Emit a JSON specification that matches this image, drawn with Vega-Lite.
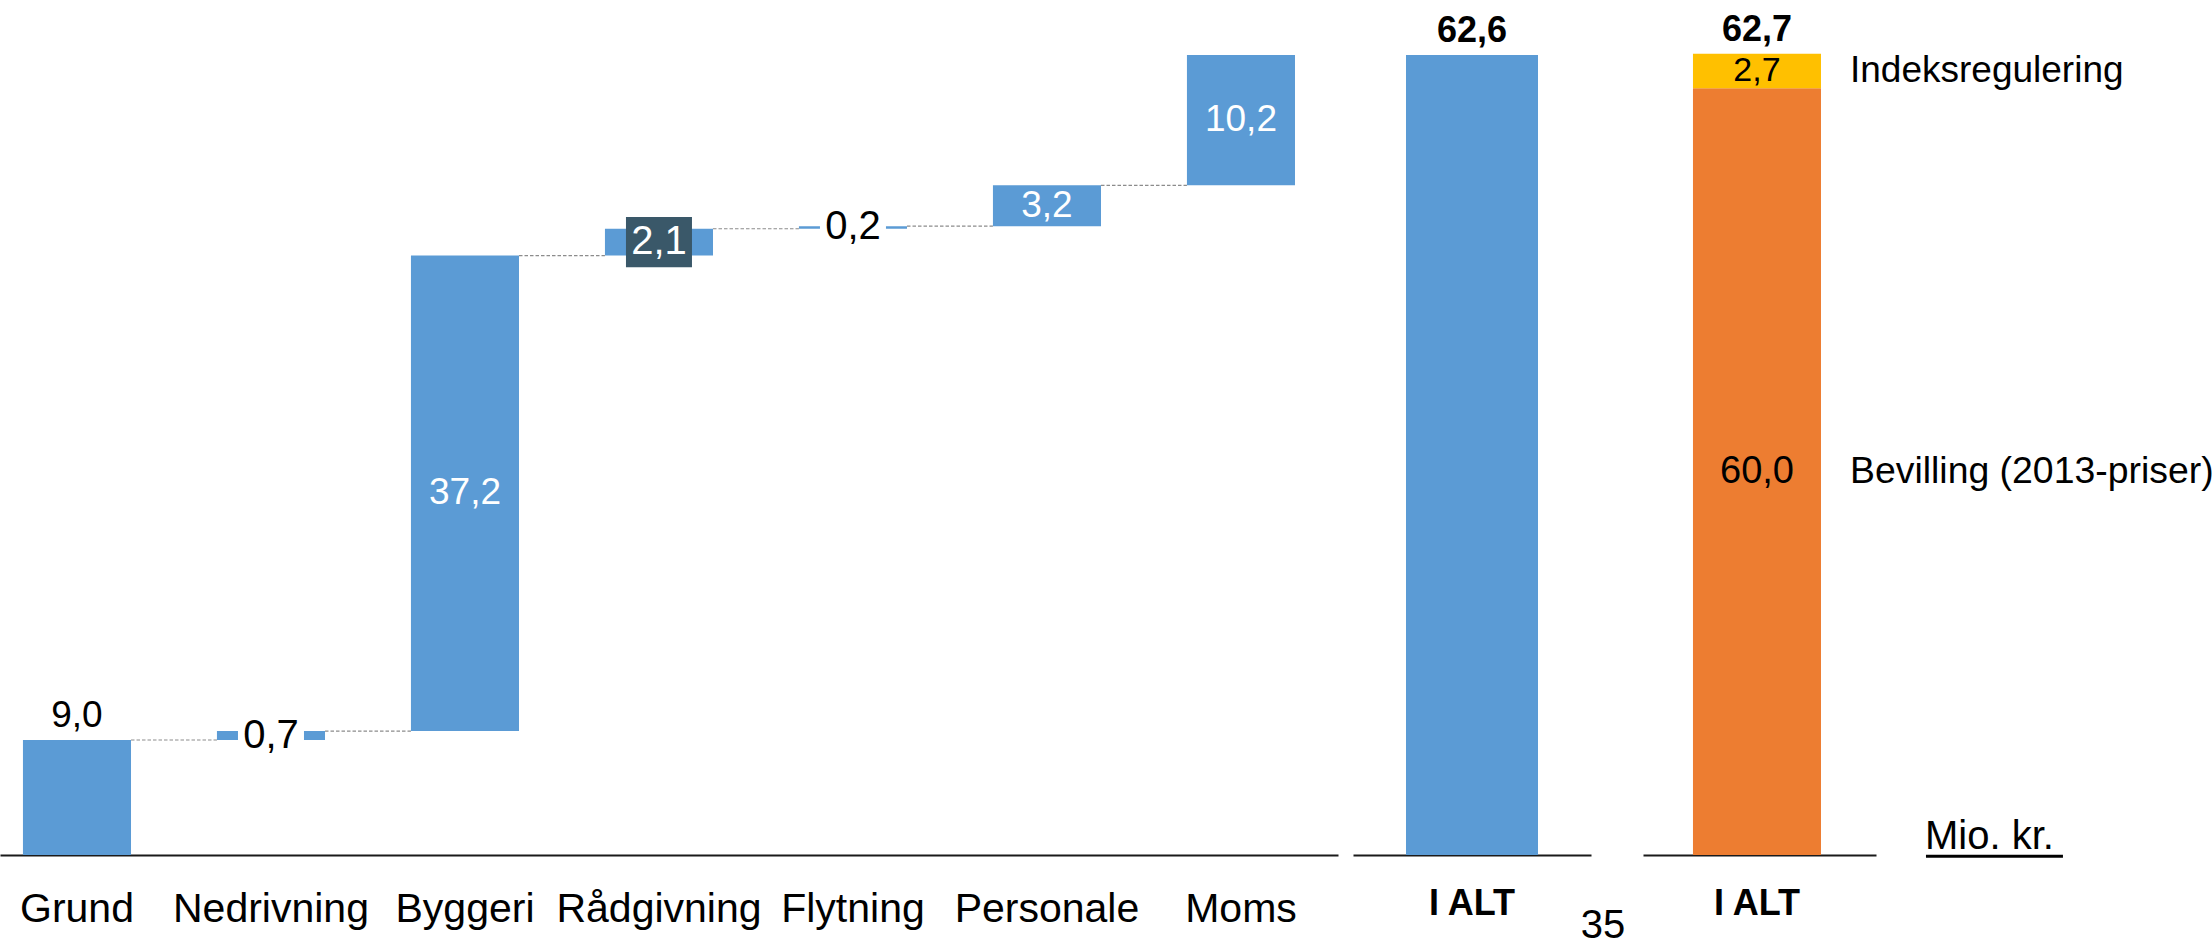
{
  "$schema": "https://vega.github.io/schema/vega-lite/v6.json",
  "padding": 0,
  "background": "white",
  "config": {
    "view": {"stroke": null},
    "font": "Liberation Sans",
    "text": {"font": "Liberation Sans"}
  },
  "bounds": "flush",
  "spacing": 15,
  "hconcat": [
    {
      "width": 1338,
      "height": 855,
      "data": {
        "values": [
          {"category": "Grund", "start": 0, "end": 9.0, "label": "9,0"},
          {"category": "Nedrivning", "start": 9.0, "end": 9.7, "label": "0,7"},
          {"category": "Byggeri", "start": 9.7, "end": 46.9, "label": "37,2"},
          {"category": "Rådgivning", "start": 46.9, "end": 49.0, "label": "2,1"},
          {"category": "Flytning", "start": 49.0, "end": 49.2, "label": "0,2"},
          {"category": "Personale", "start": 49.2, "end": 52.4, "label": "3,2"},
          {"category": "Moms", "start": 52.4, "end": 62.6, "label": "10,2"}
        ]
      },
      "transform": [
        {"window": [{"op": "lead", "field": "category", "as": "next"}]},
        {"calculate": "(datum.start + datum.end) / 2", "as": "mid"}
      ],
      "encoding": {
        "x": {
          "field": "category",
          "type": "nominal",
          "scale": {
            "domain": ["Grund", "Nedrivning", "Byggeri", "Rådgivning", "Flytning", "Personale", "Moms"],
            "paddingInner": 0.443,
            "paddingOuter": 0.17,
            "align": 0.348
          },
          "axis": {
            "title": null,
            "ticks": false,
            "tickSize": 0,
            "labelAngle": 0,
            "labelFont": "Liberation Sans",
            "labelFontSize": 41,
            "labelColor": "black",
            "labelBaseline": "alphabetic",
            "labelPadding": 66,
            "labelLimit": 0,
            "labelOverlap": false,
            "labelBound": false,
            "domainColor": "#1a1a1a",
            "domainWidth": 2,
            "grid": false
          }
        }
      },
      "layer": [
        {
          "transform": [{"filter": "datum.next != null"}],
          "mark": {"type": "rule", "color": "#8c8c8c", "strokeDash": [3.5, 2], "strokeWidth": 1.2},
          "encoding": {
            "x": {"field": "category", "type": "nominal", "bandPosition": 1},
            "x2": {"field": "next", "bandPosition": 0},
            "y": {"field": "end", "type": "quantitative", "scale": {"domain": [0, 66.9], "nice": false}, "axis": null}
          }
        },
        {
          "mark": {"type": "bar", "color": "#5B9BD5"},
          "encoding": {
            "y": {"field": "start", "type": "quantitative", "scale": {"domain": [0, 66.9], "nice": false}, "axis": null},
            "y2": {"field": "end"}
          }
        },
        {
          "transform": [{"filter": {"field": "category", "oneOf": ["Nedrivning", "Flytning"]}}],
          "mark": {"type": "point", "shape": "M-1,-0.76H1V0.76H-1Z", "filled": true, "color": "white", "opacity": 1, "size": 4356, "strokeWidth": 0},
          "encoding": {
            "y": {"field": "mid", "type": "quantitative", "scale": {"domain": [0, 66.9], "nice": false}, "axis": null}
          }
        },
        {
          "transform": [{"filter": {"field": "category", "equal": "Rådgivning"}}],
          "mark": {"type": "point", "shape": "M-1,-0.76H1V0.76H-1Z", "filled": true, "color": "#3A5869", "opacity": 1, "size": 4356, "strokeWidth": 0},
          "encoding": {
            "y": {"field": "mid", "type": "quantitative", "scale": {"domain": [0, 66.9], "nice": false}, "axis": null}
          }
        },
        {
          "transform": [{"filter": {"field": "category", "equal": "Grund"}}],
          "mark": {"type": "text", "fontSize": 37, "color": "black", "baseline": "alphabetic", "dy": -13},
          "encoding": {
            "y": {"field": "end", "type": "quantitative", "scale": {"domain": [0, 66.9], "nice": false}, "axis": null},
            "text": {"field": "label"}
          }
        },
        {
          "transform": [{"filter": {"field": "category", "oneOf": ["Nedrivning", "Flytning"]}}],
          "mark": {"type": "text", "fontSize": 40, "color": "black", "baseline": "middle"},
          "encoding": {
            "y": {"field": "mid", "type": "quantitative", "scale": {"domain": [0, 66.9], "nice": false}, "axis": null},
            "text": {"field": "label"}
          }
        },
        {
          "transform": [{"filter": {"field": "category", "equal": "Rådgivning"}}],
          "mark": {"type": "text", "fontSize": 40, "color": "white", "baseline": "middle"},
          "encoding": {
            "y": {"field": "mid", "type": "quantitative", "scale": {"domain": [0, 66.9], "nice": false}, "axis": null},
            "text": {"field": "label"}
          }
        },
        {
          "transform": [{"filter": {"field": "category", "oneOf": ["Byggeri", "Personale", "Moms"]}}],
          "mark": {"type": "text", "fontSize": 37, "color": "white", "baseline": "middle"},
          "encoding": {
            "y": {"field": "mid", "type": "quantitative", "scale": {"domain": [0, 66.9], "nice": false}, "axis": null},
            "text": {"field": "label"}
          }
        }
      ]
    },
    {
      "bounds": "flush",
      "spacing": 52,
      "hconcat": [
        {
          "width": 238,
          "height": 855,
          "data": {"values": [{"category": "I ALT", "total": 62.6, "label": "62,6"}]},
          "encoding": {
            "x": {
              "field": "category",
              "type": "nominal",
              "scale": {"paddingInner": 0, "paddingOuter": 0.4015},
              "axis": {
                "title": null, "ticks": false, "tickSize": 0, "labelAngle": 0,
                "labelFont": "Liberation Sans", "labelFontSize": 36, "labelFontWeight": "bold",
                "labelColor": "black", "labelBaseline": "alphabetic", "labelPadding": 59,
                "labelLimit": 0, "domainColor": "#1a1a1a", "domainWidth": 2, "grid": false
              }
            }
          },
          "layer": [
            {
              "mark": {"type": "bar", "color": "#5B9BD5"},
              "encoding": {
                "y": {"field": "total", "type": "quantitative", "scale": {"domain": [0, 66.9], "nice": false}, "axis": null}
              }
            },
            {
              "mark": {"type": "text", "fontSize": 36, "fontWeight": "bold", "color": "black", "baseline": "alphabetic", "dy": -13},
              "encoding": {
                "y": {"field": "total", "type": "quantitative", "scale": {"domain": [0, 66.9], "nice": false}, "axis": null},
                "text": {"field": "label"}
              }
            }
          ]
        },
        {
          "width": 233,
          "height": 855,
          "data": {
            "values": [
              {"category": "I ALT", "seg": "Bevilling (2013-priser)", "start": 0, "end": 60.0, "label": "60,0"},
              {"category": "I ALT", "seg": "Indeksregulering", "start": 60.0, "end": 62.7, "label": "2,7"}
            ]
          },
          "encoding": {
            "x": {
              "field": "category",
              "type": "nominal",
              "scale": {"domain": ["I ALT"], "paddingInner": 0, "paddingOuter": 0.41, "align": 0.476},
              "axis": {
                "title": null, "ticks": false, "tickSize": 0, "labelAngle": 0,
                "labelFont": "Liberation Sans", "labelFontSize": 36, "labelFontWeight": "bold",
                "labelColor": "black", "labelBaseline": "alphabetic", "labelPadding": 59,
                "labelLimit": 0, "domainColor": "#1a1a1a", "domainWidth": 2, "grid": false
              }
            }
          },
          "layer": [
            {
              "transform": [{"calculate": "(datum.start + datum.end) / 2", "as": "mid"}],
              "layer": [
                {
                  "mark": {"type": "bar"},
                  "encoding": {
                    "y": {"field": "start", "type": "quantitative", "scale": {"domain": [0, 66.9], "nice": false}, "axis": null},
                    "y2": {"field": "end"},
                    "color": {"field": "seg", "type": "nominal", "scale": {"domain": ["Bevilling (2013-priser)", "Indeksregulering"], "range": ["#ED7D31", "#FFC000"]}, "legend": null}
                  }
                },
                {
                  "mark": {"type": "text", "color": "black", "baseline": "middle", "fontSize": 36},
                  "encoding": {
                    "y": {"field": "mid", "type": "quantitative", "scale": {"domain": [0, 66.9], "nice": false}, "axis": null},
                    "text": {"field": "label"},
                    "size": {"condition": {"test": "datum.seg === 'Indeksregulering'", "value": 34}, "value": 38}
                  }
                },
                {
                  "mark": {"type": "text", "color": "black", "baseline": "middle", "align": "left", "dx": 93},
                  "encoding": {
                    "y": {"field": "mid", "type": "quantitative", "scale": {"domain": [0, 66.9], "nice": false}, "axis": null},
                    "text": {"field": "seg"},
                    "size": {"condition": {"test": "datum.seg === 'Indeksregulering'", "value": 37}, "value": 37.4}
                  }
                }
              ]
            },
            {
              "data": {"values": [{"category": "I ALT", "total": 62.7, "label": "62,7"}]},
              "mark": {"type": "text", "fontSize": 36, "fontWeight": "bold", "color": "black", "baseline": "alphabetic", "dy": -13},
              "encoding": {
                "y": {"field": "total", "type": "quantitative", "scale": {"domain": [0, 66.9], "nice": false}, "axis": null},
                "text": {"field": "label"}
              }
            },
            {
              "data": {"values": [{"category": "I ALT", "note": "Mio. kr."}]},
              "mark": {"type": "text", "fontSize": 40, "color": "black", "baseline": "alphabetic", "align": "left", "dx": 168, "dy": -6},
              "encoding": {
                "y": {"datum": 0, "type": "quantitative", "scale": {"domain": [0, 66.9], "nice": false}, "axis": null},
                "text": {"field": "note"}
              }
            },
            {
              "data": {"values": [{"category": "I ALT", "note": "Mio. kr."}]},
              "mark": {"type": "rule", "color": "black", "strokeWidth": 3},
              "encoding": {
                "x": {"field": "category", "type": "nominal", "bandPosition": 1.82},
                "x2": {"field": "category", "bandPosition": 2.89},
                "y": {"datum": -0.1, "type": "quantitative", "scale": {"domain": [0, 66.9], "nice": false}, "axis": null}
              }
            },
            {
              "data": {"values": [{"category": "I ALT", "note": "35"}]},
              "mark": {"type": "text", "fontSize": 40, "color": "black", "baseline": "alphabetic", "align": "center", "dx": -154, "dy": 83},
              "encoding": {
                "y": {"datum": 0, "type": "quantitative", "scale": {"domain": [0, 66.9], "nice": false}, "axis": null},
                "text": {"field": "note"}
              }
            }
          ]
        }
      ]
    }
  ]
}
